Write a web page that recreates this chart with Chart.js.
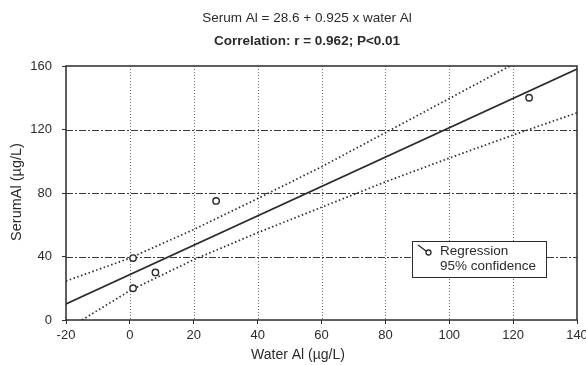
<!doctype html>
<html>

<head>
  <script src="https://cdn.jsdelivr.net/npm/chart.js@4/dist/chart.umd.min.js"></script>
  <style>
    body { margin: 0; background: #fff; }
  </style>
</head>

<body>
  <canvas id="canvas" width="586" height="365"></canvas>
  <script>
    // measured points
    const waterAl = [1, 1, 8, 27, 125];
    const serumAl = [39, 20, 30, 75, 140];

    const regX = [-20, 140];
    const regY = [10.1, 158.1];

    // 95% confidence band
    const upperX = [-20, 0, 20, 40, 60, 80, 100, 119];
    const upperY = [24.5, 39, 57, 76.5, 96.5, 118, 139.5, 160];
    const lowerX = [-15, 0, 20, 40, 60, 80, 100, 120, 140];
    const lowerY = [0, 18.5, 38, 55, 71, 87, 102, 116.5, 130.5];

    const xTicks = [-20, 0, 20, 40, 60, 80, 100, 120, 140];
    const yTicks = [0, 40, 80, 120, 160];

    const titleLine1 = 'Serum Al = 28.6 + 0.925 x water Al';
    const titleLine2 = 'Correlation: r = 0.962; P<0.01';
    const xTitle = 'Water Al (\u00b5g/L)';
    const yTitle = 'SerumAl (\u00b5g/L)';
    const legendLabels = ['Regression', '95% confidence'];

    const FONT = '"Liberation Sans", Arial, sans-serif';
    const INK = '#2b2b2b';

    const pts = (xs, ys) => xs.map((x, i) => ({ x: x, y: ys[i] }));

    const decor = {
      id: 'decor',
      beforeDatasetsDraw(chart) {
        const { ctx, chartArea: a, scales: { x, y } } = chart;
        ctx.save();
        ctx.lineWidth = 1;
        // vertical dotted grid
        ctx.strokeStyle = '#6a6a6a';
        ctx.setLineDash([1, 2]);
        xTicks.slice(1, -1).forEach((v) => {
          const px = Math.round(x.getPixelForValue(v)) + 0.5;
          ctx.beginPath();
          ctx.moveTo(px, a.top);
          ctx.lineTo(px, a.bottom);
          ctx.stroke();
        });
        // horizontal dash-dot grid
        ctx.strokeStyle = '#3a3a3a';
        ctx.setLineDash([7, 2, 2, 2]);
        yTicks.slice(1, -1).forEach((v) => {
          const py = Math.round(y.getPixelForValue(v)) + 0.5;
          ctx.beginPath();
          ctx.moveTo(a.left, py);
          ctx.lineTo(a.right, py);
          ctx.stroke();
        });
        ctx.restore();
      },
      afterDatasetsDraw(chart) {
        const { ctx, chartArea: a } = chart;
        ctx.save();
        ctx.strokeStyle = INK;
        ctx.lineWidth = 1.5;
        ctx.strokeRect(a.left, a.top, a.right - a.left, a.bottom - a.top);
        ctx.restore();
      },
      afterDraw(chart) {
        const { ctx } = chart;
        ctx.save();
        ctx.fillStyle = INK;
        ctx.textAlign = 'center';
        ctx.textBaseline = 'middle';
        ctx.font = '13.5px ' + FONT;
        ctx.fillText(titleLine1, 307, 18);
        ctx.font = 'bold 13.5px ' + FONT;
        ctx.fillText(titleLine2, 307, 41);

        ctx.font = '14px ' + FONT;
        ctx.fillText(xTitle, 298, 355);
        ctx.translate(17, 192);
        ctx.rotate(-Math.PI / 2);
        ctx.font = '14.5px ' + FONT;
        ctx.fillText(yTitle, 0, 0);
        ctx.restore();

        // legend box
        ctx.save();
        const bx = 412, by = 241, bw = 134, bh = 36;
        ctx.fillStyle = '#fff';
        ctx.fillRect(bx, by, bw, bh);
        ctx.strokeStyle = INK;
        ctx.lineWidth = 1;
        ctx.strokeRect(bx + 0.5, by + 0.5, bw, bh);
        ctx.lineWidth = 1.3;
        ctx.beginPath();
        ctx.moveTo(418, 245);
        ctx.lineTo(426, 251);
        ctx.stroke();
        ctx.beginPath();
        ctx.arc(428.5, 252.5, 2.5, 0, Math.PI * 2);
        ctx.stroke();
        ctx.fillStyle = INK;
        ctx.font = '13.5px ' + FONT;
        ctx.textAlign = 'left';
        ctx.textBaseline = 'middle';
        ctx.fillText(legendLabels[0], 440, 251);
        ctx.fillText(legendLabels[1], 440, 266);
        ctx.restore();
      }
    };

    new Chart(document.getElementById('canvas').getContext('2d'), {
      type: 'scatter',
      data: {
        datasets: [{
          label: 'Data',
          data: pts(waterAl, serumAl),
          pointRadius: 3.2,
          pointBorderWidth: 1.4,
          pointBorderColor: INK,
          pointBackgroundColor: '#fff',
          showLine: false,
          order: 0
        }, {
          label: 'Regression',
          data: pts(regX, regY),
          showLine: true,
          pointRadius: 0,
          borderColor: INK,
          borderWidth: 1.6,
          order: 1
        }, {
          label: 'Upper 95%',
          data: pts(upperX, upperY),
          showLine: true,
          pointRadius: 0,
          borderColor: INK,
          borderWidth: 1.7,
          borderDash: [1.5, 2.5],
          order: 2
        }, {
          label: 'Lower 95%',
          data: pts(lowerX, lowerY),
          showLine: true,
          pointRadius: 0,
          borderColor: INK,
          borderWidth: 1.7,
          borderDash: [1.5, 2.5],
          order: 2
        }]
      },
      options: {
        responsive: false,
        animation: false,
        layout: { padding: { top: 66, right: 9, bottom: 0, left: 0 } },
        plugins: {
          legend: { display: false },
          tooltip: { enabled: false }
        },
        scales: {
          x: {
            type: 'linear',
            min: -20,
            max: 140,
            afterFit: (s) => { s.height = 45; s.paddingLeft = 0; s.paddingRight = 0; },
            afterBuildTicks: (s) => { s.ticks = xTicks.map((v) => ({ value: v })); },
            border: { display: false },
            grid: { drawOnChartArea: false, tickLength: 4, color: INK },
            ticks: { padding: 4, color: INK, font: { family: FONT, size: 13 } }
          },
          y: {
            min: 0,
            max: 160,
            afterFit: (s) => { s.width = 66; s.paddingTop = 0; s.paddingBottom = 0; },
            afterBuildTicks: (s) => { s.ticks = yTicks.map((v) => ({ value: v })); },
            border: { display: false },
            grid: { drawOnChartArea: false, tickLength: 4, color: INK },
            ticks: { padding: 10, color: INK, font: { family: FONT, size: 13 } }
          }
        }
      },
      plugins: [decor]
    });
  </script>
</body>

</html>
